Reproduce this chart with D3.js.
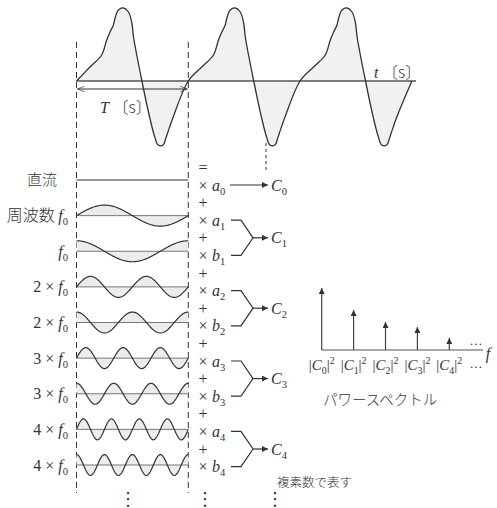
<!DOCTYPE html>
<html>
<head>
<meta charset="utf-8">
<script src="https://cdn.jsdelivr.net/npm/d3@7"></script>
<style>
body {margin: 0; background: #fff;}
text {fill: #333;}
</style>
</head>
<body>
<div id="chart"></div>
<script>
// frame
const FRAME_WIDTH = 497;
const FRAME_HEIGHT = 508;
const INK = "#333";
const SERIF = "'Liberation Serif', 'DejaVu Serif', serif";
const JP = "'Noto Sans CJK JP', sans-serif";

// one period of the measured wave (phase 0..1, value)
const WAVE_PHASE = [0, .12, .225, .27, .30, .33, .345, .375, .42, .465, .495, .51, .585, .66, .70, .73, .775, .80, .815, .865, 1];
const WAVE_VALUE = [0, 14, 26, 41, 49, 56, 63, 71, 73, 69, 58, 44, 0, -39, -56, -64, -64, -57, -52, -36, 0];
const PERIODS = 3;

// rows of the decomposition
const ROW_HARMONIC = [0, 1, 1, 2, 2, 3, 3, 4, 4];
const ROW_KIND = ["dc", "sin", "cos", "sin", "cos", "sin", "cos", "sin", "cos"];
const ROW_COEF = ["a", "a", "b", "a", "b", "a", "b", "a", "b"];
const ROW_PREFIX = ["直流", "周波数 ", "", "2 × ", "2 × ", "3 × ", "3 × ", "4 × ", "4 × "];

// power spectrum
const SPEC_INDEX = [0, 1, 2, 3, 4];
const SPEC_POWER = [62, 40, 28, 23, 12];

const svg = d3.select("#chart")
    .append("svg")
        .attr("width", FRAME_WIDTH)
        .attr("height", FRAME_HEIGHT);

// arrow heads
const defs = svg.append("defs");
defs.append("marker")
    .attr("id", "head")
    .attr("viewBox", "0 0 10 10")
    .attr("refX", 10).attr("refY", 5)
    .attr("markerWidth", 9).attr("markerHeight", 6)
    .attr("markerUnits", "userSpaceOnUse")
    .attr("orient", "auto")
  .append("path")
    .attr("d", "M0,0 L10,5 L0,10 Z")
    .attr("fill", INK);
defs.append("marker")
    .attr("id", "open")
    .attr("viewBox", "0 0 10 10")
    .attr("refX", 10).attr("refY", 5)
    .attr("markerWidth", 10).attr("markerHeight", 7)
    .attr("markerUnits", "userSpaceOnUse")
    .attr("orient", "auto-start-reverse")
  .append("path")
    .attr("d", "M0,1 L10,5 L0,9")
    .attr("fill", "none")
    .attr("stroke", INK)
    .attr("stroke-width", 1);

// helper for math text: parts = [[text, style]]
// styles: i italic, jp japanese, sub / sup shift, base returns to baseline
function mathText(g, x, y, parts, size, anchor) {
    const t = g.append("text")
        .attr("font-family", SERIF)
        .attr("x", x).attr("y", y)
        .attr("dy", "0.35em")
        .attr("font-size", size)
        .attr("text-anchor", anchor || "start");
    let shift = 0;
    parts.forEach(([s, st]) => {
        const sp = t.append("tspan").text(s);
        let target = 0;
        if (st == "i") sp.attr("font-style", "italic");
        if (st == "jp") sp.attr("font-family", JP).attr("font-weight", 300);
        if (st == "sub") { sp.attr("font-size", size * 0.66); target = 4; }
        if (st == "sup") { sp.attr("font-size", size * 0.66); target = -6; }
        if (target != shift) sp.attr("dy", target - shift);
        shift = target;
    });
    return t;
}

// ---------- top: periodic wave ----------
const X_T = d3.scaleLinear().domain([0, PERIODS]).range([76.5, 411.9]);
const Y_T = d3.scaleLinear().domain([-73, 73]).range([154, 8]);

const wave = [];
d3.range(PERIODS).forEach((p) => {
    WAVE_PHASE.forEach((ph, i) => {
        if (p > 0 && i == 0) return;
        wave.push([p + ph, WAVE_VALUE[i]]);
    });
});

svg.append("path")
    .datum(wave)
    .attr("d", d3.area().x(d => X_T(d[0])).y0(Y_T(0)).y1(d => Y_T(d[1])).curve(d3.curveCatmullRom))
    .attr("fill", "#f1f1f1");
svg.append("line")
    .attr("x1", X_T(0)).attr("x2", 416)
    .attr("y1", Y_T(0)).attr("y2", Y_T(0))
    .attr("stroke", "#555").attr("stroke-width", 1.5);
svg.append("path")
    .datum(wave)
    .attr("d", d3.line().x(d => X_T(d[0])).y(d => Y_T(d[1])).curve(d3.curveCatmullRom))
    .attr("fill", "none").attr("stroke", INK).attr("stroke-width", 1.3);

// T arrow
svg.append("line")
    .attr("x1", X_T(0) + 1).attr("x2", X_T(1) - 1)
    .attr("y1", 89).attr("y2", 89)
    .attr("stroke", INK).attr("stroke-width", 1)
    .attr("marker-start", "url(#open)")
    .attr("marker-end", "url(#open)");
mathText(svg, 100, 107, [["T", "i"], [" 〔s〕", "jp"]], 16);
mathText(svg, 374, 72, [["t", "i"], [" 〔s〕", "jp"]], 16);

// dashed period markers
[0, 1].forEach((p) => {
    svg.append("line")
        .attr("x1", X_T(p)).attr("x2", X_T(p))
        .attr("y1", 42).attr("y2", 493)
        .attr("stroke", INK).attr("stroke-width", 1)
        .attr("stroke-dasharray", "6,4");
});
svg.append("line")
    .attr("x1", 266).attr("x2", 266)
    .attr("y1", 143).attr("y2", 170)
    .attr("stroke", INK).attr("stroke-width", 1)
    .attr("stroke-dasharray", "3,3");

// ---------- harmonic rows ----------
const X_H = d3.scaleLinear().domain([0, 1]).range([X_T(0), X_T(1)]);
const Y_ROW = d3.scaleLinear().domain([0, 8]).range([180, 465]);
const Y_COEF = d3.scaleLinear().domain([0, 8]).range([185, 466.6]);
const AMP = 10.5;
const samples = d3.range(0, 1.0001, 1 / 150);

ROW_KIND.forEach((kind, i) => {
    const k = ROW_HARMONIC[i];
    const y0 = Y_ROW(i);
    const fn = (t) => kind == "dc" ? 0 : (kind == "sin" ? Math.sin(2 * Math.PI * k * t) : Math.cos(2 * Math.PI * k * t));
    if (kind != "dc") {
        svg.append("path")
            .datum(samples)
            .attr("d", d3.area().x(t => X_H(t)).y0(y0).y1(t => y0 - AMP * fn(t)))
            .attr("fill", "#ececec");
        svg.append("line")
            .attr("x1", X_H(0)).attr("x2", X_H(1))
            .attr("y1", y0).attr("y2", y0)
            .attr("stroke", "#777").attr("stroke-width", 1);
    }
    svg.append("path")
        .datum(samples)
        .attr("d", d3.line().x(t => X_H(t)).y(t => y0 - AMP * fn(t)))
        .attr("fill", "none").attr("stroke", INK).attr("stroke-width", 1.2);

    // row label
    if (kind == "dc") {
        svg.append("text")
            .attr("font-family", JP).attr("font-weight", 300)
            .attr("x", 57).attr("y", y0).attr("dy", "0.35em")
            .attr("font-size", 15).attr("text-anchor", "end")
            .text(ROW_PREFIX[i]);
    } else {
        const pre = ROW_PREFIX[i];
        const parts = [];
        if (pre) parts.push([pre, /[^\x00-\xff×]/.test(pre) ? "jp" : ""]);
        parts.push(["f", "i"], ["0", "sub"]);
        mathText(svg, 68, y0, parts, 16, "end");
    }

    // coefficient column
    const yc = Y_COEF(i);
    mathText(svg, 203, yc, [["×", ""]], 16, "middle");
    mathText(svg, 212, yc, [[ROW_COEF[i], "i"], [String(k), "sub"]], 16);
    mathText(svg, 203, Y_COEF(i - 0.5), [[i == 0 ? "=" : "+", ""]], 16, "middle");
});

// C0 arrow
svg.append("line")
    .attr("x1", 230).attr("x2", 268)
    .attr("y1", Y_COEF(0)).attr("y2", Y_COEF(0))
    .attr("stroke", INK).attr("stroke-width", 1.2)
    .attr("marker-end", "url(#head)");
mathText(svg, 271, Y_COEF(0), [["C", "i"], ["0", "sub"]], 16);

// forks a_k, b_k -> C_k
d3.range(1, 5).forEach((k) => {
    const ya = Y_COEF(2 * k - 1);
    const yb = Y_COEF(2 * k);
    const ym = (ya + yb) / 2;
    svg.append("path")
        .attr("d", `M231,${ya} L241,${ya} L253,${ym} L241,${yb} L231,${yb}`)
        .attr("fill", "none").attr("stroke", INK).attr("stroke-width", 1.2);
    svg.append("line")
        .attr("x1", 253).attr("x2", 268)
        .attr("y1", ym).attr("y2", ym)
        .attr("stroke", INK).attr("stroke-width", 1.2)
        .attr("marker-end", "url(#head)");
    mathText(svg, 271, ym, [["C", "i"], [String(k), "sub"]], 16);
});

svg.append("text")
    .attr("font-family", JP).attr("font-weight", 300)
    .attr("x", 277).attr("y", 483).attr("dy", "0.35em")
    .attr("font-size", 12.5)
    .text("複素数で表す");

// continuation dots
[128, 205, 275].forEach((x) => {
    svg.append("text")
        .attr("x", x).attr("y", 499).attr("dy", "0.35em")
        .attr("font-family", "DejaVu Sans").attr("font-size", 18)
        .attr("text-anchor", "middle")
        .text("⋮");
});

// ---------- power spectrum ----------
const X_S = d3.scaleLinear().domain([0, 4]).range([321.7, 449.3]);
const Y_S = d3.scaleLinear().domain([0, 62]).range([350, 288]);

svg.append("line")
    .attr("x1", X_S(0)).attr("x2", 483)
    .attr("y1", Y_S(0)).attr("y2", Y_S(0))
    .attr("stroke", "#555").attr("stroke-width", 1.2);

svg.selectAll(".stem")
    .data(SPEC_INDEX)
    .enter()
    .append("line")
        .attr("class", "stem")
        .attr("x1", (d) => X_S(d)).attr("x2", (d) => X_S(d))
        .attr("y1", Y_S(0))
        .attr("y2", (d) => Y_S(SPEC_POWER[d]))
        .attr("stroke", "#444").attr("stroke-width", 1.2)
        .attr("marker-end", "url(#head)");

SPEC_INDEX.forEach((d) => {
    mathText(svg, X_S(d), 365, [["|", ""], ["C", "i"], [String(d), "sub"], ["|", ""], ["2", "sup"]], 15, "middle");
});
mathText(svg, 476, 366, [["···", ""]], 13, "middle");
mathText(svg, 476, 343, [["···", ""]], 13, "middle");
mathText(svg, 488, 353, [["f", "i"]], 16, "middle");

svg.append("text")
    .attr("font-family", JP).attr("font-weight", 300)
    .attr("x", 323).attr("y", 400).attr("dy", "0.35em")
    .attr("font-size", 14.5)
    .text("パワースペクトル");
</script>
</body>
</html>
